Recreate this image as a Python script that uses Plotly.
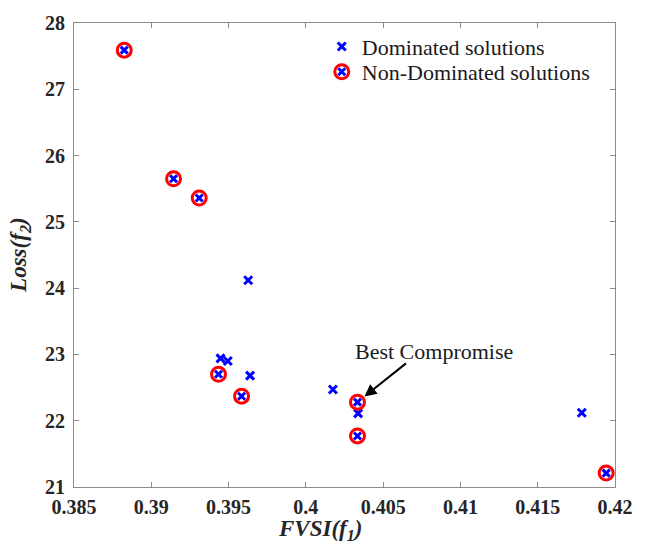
import plotly.graph_objects as go

# ---- data ----
dom_x = [0.39627, 0.39448, 0.39495, 0.39639, 0.40175, 0.40338, 0.41785]
dom_y = [24.12, 22.94, 22.90, 22.68, 22.47, 22.11, 22.12]

nd_x = [0.38825, 0.39144, 0.39310, 0.39435, 0.39584, 0.40334, 0.40334, 0.41943]
nd_y = [27.59, 25.65, 25.36, 22.70, 22.37, 22.28, 21.77, 21.21]

best_idx = 5

x_ticks = [0.385, 0.39, 0.395, 0.4, 0.405, 0.41, 0.415, 0.42]
x_ticktext = ["0.385", "0.39", "0.395", "0.4", "0.405", "0.41", "0.415", "0.42"]
y_ticks = [21, 22, 23, 24, 25, 26, 27, 28]

BLUE = "#0000ff"
RED = "#ff0000"
FONT = "Liberation Serif, Times New Roman, serif"

fig = go.Figure()

fig.add_trace(go.Scatter(
    x=dom_x, y=dom_y, mode="markers", name="Dominated solutions",
    marker=dict(symbol="x-thin", size=8, color=BLUE, line=dict(color=BLUE, width=3)),
    legend="legend", showlegend=True, cliponaxis=False,
))
fig.add_trace(go.Scatter(
    x=nd_x, y=nd_y, mode="markers", name="Non-Dominated solutions",
    marker=dict(symbol="circle-open", size=14, color=RED, line=dict(color=RED, width=3)),
    legend="legend2", showlegend=True, cliponaxis=False,
))
fig.add_trace(go.Scatter(
    x=nd_x, y=nd_y, mode="markers", name="",
    marker=dict(symbol="x-thin", size=7, color=BLUE, line=dict(color=BLUE, width=3)),
    legend="legend3", showlegend=True, cliponaxis=False,
))

axis_common = dict(
    showline=True, linecolor="#8c8c8c", linewidth=1, mirror="ticks",
    ticks="inside", ticklen=5, tickcolor="#8c8c8c", tickwidth=1,
    showgrid=False, zeroline=False,
    tickfont=dict(family=FONT, size=20, color="#262626", weight="bold"),
)

legend_font = dict(family=FONT, size=22, color="#1a1a1a")
fig.update_layout(
    width=645, height=558,
    margin=dict(l=74, r=22, t=13, b=71),
    paper_bgcolor="white", plot_bgcolor="white",
    showlegend=True,
    xaxis=dict(range=[0.385, 0.42], tickvals=x_ticks, ticktext=x_ticktext,
               ticklabelstandoff=2, **axis_common),
    yaxis=dict(range=[21, 28], tickvals=y_ticks, ticklabelstandoff=4, **axis_common),
    legend=dict(x=0.458, y=0.949, xanchor="left", yanchor="middle", visible=True,
                bgcolor="rgba(0,0,0,0)", font=legend_font),
    legend2=dict(x=0.458, y=0.8945, xanchor="left", yanchor="middle", visible=True,
                 bgcolor="rgba(0,0,0,0)", font=legend_font),
    legend3=dict(x=0.458, y=0.8945, xanchor="left", yanchor="middle", visible=True,
                 bgcolor="rgba(0,0,0,0)", font=legend_font),
    font=dict(family=FONT),
)

# axis titles
fig.add_annotation(
    text="<b><i>FVSI(f<sub>1</sub>)</i></b>", xref="paper", yref="paper",
    x=0.455, y=-0.058, xanchor="center", yanchor="top", showarrow=False,
    font=dict(family=FONT, size=23, color="#262626"),
)
fig.add_annotation(
    text="<b><i>Loss(f<sub>2</sub>)</i></b>", xref="paper", yref="paper",
    x=-0.1, y=0.5, xanchor="center", yanchor="middle", textangle=-90, showarrow=False,
    font=dict(family=FONT, size=23, color="#262626"),
)

# best compromise annotation
bx, by = nd_x[best_idx], nd_y[best_idx]
fig.add_annotation(
    x=bx, y=by, xref="x", yref="y", text="", showarrow=True,
    ax=50, ay=-40, arrowhead=2, arrowsize=1.2, arrowwidth=2, arrowcolor="black", standoff=9,
)
fig.add_annotation(
    x=bx, y=by, xref="x", yref="y", text="Best Compromise", showarrow=False,
    xanchor="left", yanchor="bottom", xshift=-4, yshift=36,
    font=dict(family=FONT, size=22, color="#1a1a1a"),
)

fig.write_html("out.html")
